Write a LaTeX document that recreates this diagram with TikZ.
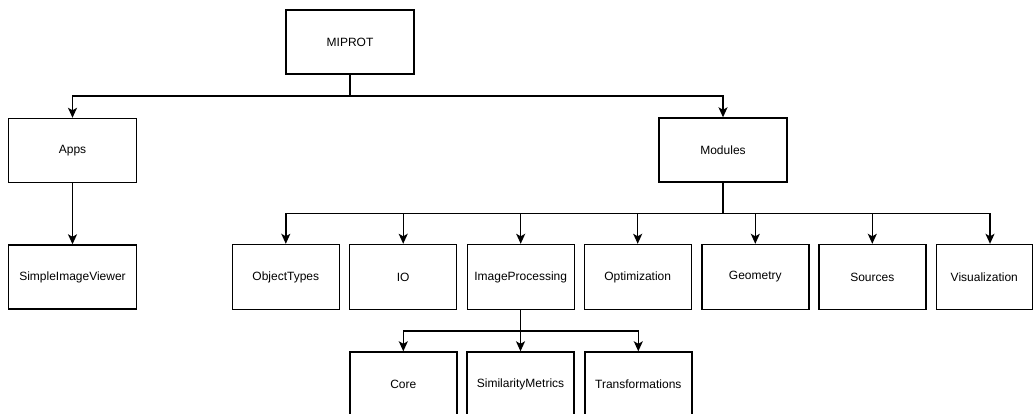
\documentclass[tikz,border=0pt]{standalone}
\usepackage{fontspec}
\setmainfont{Liberation Sans}
\usetikzlibrary{arrows.meta}

\begin{document}
\begin{tikzpicture}[
    x=1pt, y=-1pt,
    box/.style={
      rectangle,
      draw=black,
      line width=1.4pt,
      inner sep=0pt,
      minimum width=128pt,
      minimum height=64pt,
      text centered,
      font=\fontsize{12}{14}\selectfont
    },
    module/.style={
      box,
      minimum width=107pt,
      minimum height=65pt
    },
    link/.style={
      line width=1.4pt,
      -{Stealth[length=10pt,width=9pt,inset=2.5pt]}
    }
  ]

    \path[use as bounding box] (0,0) rectangle (1033,414);
    \clip (0,0) rectangle (1033,414);

    % Root and first level
    \node[box] (miprot) at (350,42) {MIPROT};
    \node[box] (apps) at (72.5,150.5) {Apps};
    \node[box] (modules) at (723,150) {Modules};

    % Applications
    \node[box] (viewer) at (72.5,277) {SimpleImageViewer};

    % Modules row
    \node[module] (objtypes) at (285.8,277) {ObjectTypes};
    \node[module] (io) at (403.2,277) {IO};
    \node[module] (imgproc) at (520.7,277) {ImageProcessing};
    \node[module] (optim) at (637.7,277) {Optimization};
    \node[module] (geometry) at (755.3,277) {Geometry};
    \node[module] (sources) at (872.3,277) {Sources};
    \node[module, minimum width=96pt] (visual) at (984.3,277) {Visualization};

    % ImageProcessing row
    \node[module] (core) at (403.3,384.5) {Core};
    \node[module] (simmetrics) at (520.5,384.5) {SimilarityMetrics};
    \node[module] (transform) at (638.3,384.5) {Transformations};

    % Connectors from MIPROT
    \coordinate (rootbus) at (350,96);
    \draw[link] (miprot.south) -- (rootbus) -| (apps.north);
    \draw[link] (rootbus) -| (modules.north);
    \draw[link] (apps.south) -- (viewer.north);

    % Connectors from Modules
    \coordinate (modbus) at (723,213.5);
    \draw[line width=1.4pt] (modules.south) -- (modbus);
    \foreach \target in {objtypes, io, imgproc, optim, geometry, sources}
      \draw[link] (modbus) -| (\target.north);
    \draw[link] (modbus) -| ([xshift=5.7pt]visual.north);

    % Connectors from ImageProcessing
    \coordinate (ipbus) at (520.7,331);
    \draw[line width=1.4pt] (imgproc.south) -- (ipbus);
    \foreach \target in {core, simmetrics, transform}
      \draw[link] (ipbus) -| (\target.north);

  \end{tikzpicture}
\end{document}
